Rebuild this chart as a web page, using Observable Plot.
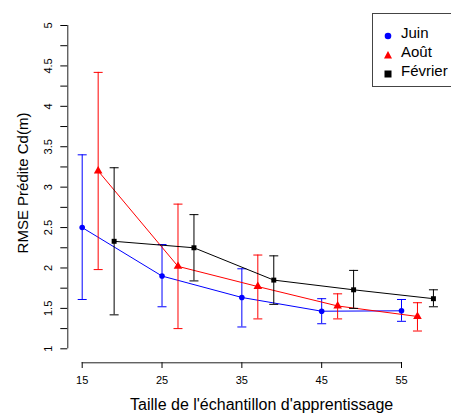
<!DOCTYPE html>
<html>
<head>
<meta charset="utf-8">
<script src="https://cdn.jsdelivr.net/npm/d3@7"></script>
<script src="https://cdn.jsdelivr.net/npm/@observablehq/plot@0.6"></script>
<style>
  body { margin: 0; background: #fff; overflow: hidden; }
  #wrap { position: relative; width: 451px; height: 419px; overflow: hidden; font-family: "Liberation Sans", Arial, sans-serif; }
  #legend { position: absolute; left: 372px; top: 13px; width: 90px; height: 74px; border: 1px solid #444; box-sizing: border-box; background: #fff; }
  .li { position: absolute; left: 0; font-size: 15px; line-height: 15px; color: #000; }
  .li span.sym { position: absolute; }
  .li span.lab { position: absolute; left: 28px; white-space: nowrap; }
</style>
</head>
<body>
<div id="wrap"></div>
<script>
// ---- data ----
const seriesNames = ["Juin", "Août", "Février"];
const seriesColors = ["#0000ff", "#ff0000", "#000000"];
const seriesSymbols = ["circle", "triangle", "square"];

const juinX  = [15, 25, 35, 45, 55];
const juinY  = [2.50, 1.90, 1.635, 1.465, 1.47];
const juinLo = [1.61, 1.52, 1.27, 1.31, 1.34];
const juinHi = [3.40, 2.29, 1.99, 1.62, 1.61];

const aoutX  = [17, 27, 37, 47, 57];
const aoutY  = [3.20, 2.02, 1.77, 1.53, 1.40];
const aoutLo = [1.98, 1.25, 1.37, 1.37, 1.22];
const aoutHi = [4.42, 2.79, 2.16, 1.68, 1.57];

const fevX  = [19, 29, 39, 49, 59];
const fevY  = [2.33, 2.25, 1.85, 1.73, 1.62];
const fevLo = [1.42, 1.84, 1.55, 1.50, 1.52];
const fevHi = [3.24, 2.66, 2.15, 1.97, 1.73];

const xTicks = [15, 25, 35, 45, 55];
const yTicks = [1, 1.25, 1.5, 1.75, 2, 2.25, 2.5, 2.75, 3, 3.25, 3.5, 3.75, 4, 4.25, 4.5, 4.75, 5];
const yLabels = [1, 1.5, 2, 2.5, 3, 3.5, 4, 4.5, 5];
const xTitle = "Taille de l'échantillon d'apprentissage";
const yTitle = "RMSE Prédite Cd(m)";

// ---- build tables ----
function rows(name, X, Y, Lo, Hi) {
  return X.map((x, i) => ({series: name, x, y: Y[i], lo: Lo[i], hi: Hi[i]}));
}
const tables = [
  rows(seriesNames[0], juinX, juinY, juinLo, juinHi),
  rows(seriesNames[1], aoutX, aoutY, aoutLo, aoutHi),
  rows(seriesNames[2], fevX, fevY, fevLo, fevHi)
];

const capSymbol = {
  draw(context) { context.moveTo(-4.5, 0); context.lineTo(4.5, 0); }
};

const font = "Liberation Sans, Arial, sans-serif";
const marks = [];
tables.forEach((t, k) => {
  const c = seriesColors[k];
  marks.push(Plot.ruleX(t, {x: "x", y1: "lo", y2: "hi", stroke: c, strokeWidth: 1}));
  marks.push(Plot.dot(t, {x: "x", y: "lo", symbol: capSymbol, stroke: c, fill: "none", strokeWidth: 1}));
  marks.push(Plot.dot(t, {x: "x", y: "hi", symbol: capSymbol, stroke: c, fill: "none", strokeWidth: 1}));
  marks.push(Plot.line(t, {x: "x", y: "y", stroke: c, strokeWidth: 1}));
  marks.push(Plot.dot(t, {x: "x", y: "y", symbol: seriesSymbols[k], fill: c, stroke: "none", r: k === 1 ? 3.2 : 2.8}));
});

// axes
marks.push(Plot.axisX({ticks: xTicks, tickSize: 6, tickPadding: 8, fontSize: 11, label: null, tickFormat: d => String(d)}));
marks.push(Plot.ruleY([1], {x1: xTicks[0], x2: xTicks[xTicks.length - 1], dy: 14, stroke: "#222"}));
marks.push(Plot.axisY({ticks: yTicks, tickSize: 7, tickFormat: () => "", label: null}));
marks.push(Plot.ruleX([xTicks[0]], {y1: yTicks[0], y2: yTicks[yTicks.length - 1], dx: -14.4, stroke: "#222"}));
marks.push(Plot.text(yLabels, {y: d => d, text: d => String(d), frameAnchor: "left", textAnchor: "middle", dx: -19, rotate: -90, fontSize: 11, fill: "#000"}));
marks.push(Plot.text([yTitle], {text: d => d, frameAnchor: "left", textAnchor: "middle", dx: -45, rotate: -90, fontSize: 15, fill: "#000"}));
marks.push(Plot.text([xTitle], {text: d => d, frameAnchor: "bottom", textAnchor: "middle", dy: 47, dx: 2, fontSize: 16, fill: "#000"}));

const chart = Plot.plot({
  width: 451,
  height: 419,
  marginLeft: 67.3,
  marginRight: 0,
  marginTop: 3,
  marginBottom: 57,
  style: {fontFamily: font, fontSize: "11px", color: "#000", background: "#fff", overflow: "visible"},
  x: {domain: [15, 55], range: [81.7, 401]},
  y: {domain: [1, 5], range: [348.3, 25]},
  marks
});

const wrap = document.getElementById("wrap");
wrap.appendChild(chart);

// legend (HTML overlay)
const legend = document.createElement("div");
legend.id = "legend";
const symSvg = [
  '<svg width="10" height="10"><circle cx="5" cy="5" r="3.3" fill="#0000ff"/></svg>',
  '<svg width="10" height="10"><path d="M5 1 L9 8.5 L1 8.5 Z" fill="#ff0000"/></svg>',
  '<svg width="10" height="10"><rect x="1.5" y="1.5" width="7" height="7" fill="#000"/></svg>'
];
seriesNames.forEach((n, i) => {
  const row = document.createElement("div");
  row.className = "li";
  row.style.top = (11 + i * 19) + "px";
  row.style.width = "100%";
  row.innerHTML = '<span class="sym" style="left:10px;top:3px">' + symSvg[i] + '</span><span class="lab">' + n + '</span>';
  legend.appendChild(row);
});
wrap.appendChild(legend);
</script>
</body>
</html>
